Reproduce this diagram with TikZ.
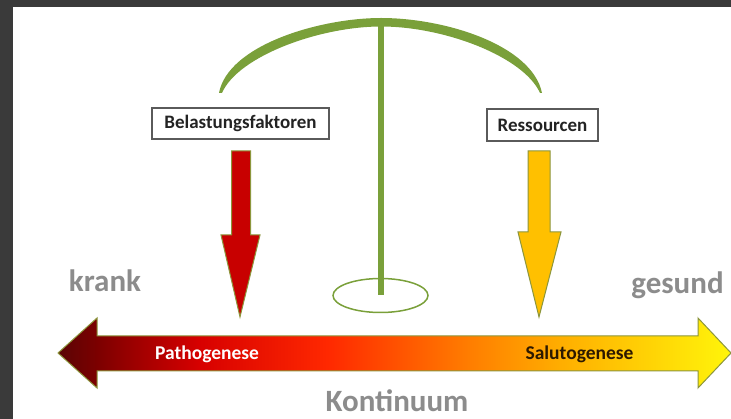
\documentclass[tikz,border=0pt]{standalone}
\usepackage{fontspec}
\usetikzlibrary{shapes.geometric}
\setmainfont{Carlito}
\definecolor{bggray}{RGB}{58,58,58}
\definecolor{leaf}{RGB}{122,160,58}
\definecolor{edgeol}{RGB}{140,150,60}
\definecolor{txtgray}{RGB}{140,140,140}
\definecolor{boxedge}{RGB}{90,90,90}
\definecolor{boxtxt}{RGB}{35,35,35}
\definecolor{arrred}{RGB}{200,0,0}
\definecolor{arryel}{RGB}{255,192,0}
\definecolor{saltxt}{RGB}{45,25,0}
\definecolor{sa}{RGB}{90,5,5}
\definecolor{sb}{RGB}{125,0,0}
\definecolor{sc}{RGB}{215,0,0}
\definecolor{sd}{RGB}{255,40,0}
\definecolor{se}{RGB}{255,125,0}
\definecolor{sf}{RGB}{255,175,0}
\definecolor{sg}{RGB}{255,245,10}
\pgfdeclarehorizontalshading{contshade}{100bp}{color(0bp)=(sa); color(25bp)=(sa); color(28bp)=(sb); color(35.5bp)=(sc); color(45bp)=(sd); color(55.5bp)=(se); color(62.5bp)=(sf); color(75bp)=(sg); color(100bp)=(sg)}
\tikzset{
  labbox/.style={draw=boxedge, line width=1.2pt, fill=white, inner sep=0pt, font=\fontsize{19}{19}\selectfont\bfseries, text=boxtxt},
  bigtxt/.style={inner sep=0pt, font=\fontsize{31}{31}\selectfont\bfseries, text=txtgray},
  contxt/.style={inner sep=0pt, font=\fontsize{19.5}{19.5}\selectfont\bfseries},
  downarr/.style={draw=edgeol, line width=1pt, line join=miter},
}
\begin{document}
\begin{tikzpicture}[x=1pt,y=-1pt]
\useasboundingbox (0,0) rectangle (731,419);
% frame
\fill[bggray] (0,0) rectangle (731,419);
\fill[white] (13,7) rectangle (731,419);
% balance beam (crescent)
\fill[leaf] (219,93) .. controls (228,45) and (320,18) .. (381,18)
  .. controls (445,18) and (532,45) .. (542,93)
  -- (540,93) .. controls (524,57) and (445,26.5) .. (381,26.5)
  .. controls (320,26.5) and (238,56) .. (222,93) -- cycle;
% pole
\coordinate (poletop) at (380.5,20);
\node[draw=leaf, line width=1.5pt, ellipse, minimum width=95pt, minimum height=34pt, inner sep=0pt] (base) at (380.5,295.5) {};
\draw[leaf, line width=6pt] (poletop) -- (base.center);
% boxes
\node[labbox, minimum width=177pt, minimum height=31pt] (bel) at (240.5,123.5) {Belastungsfaktoren};
\node[labbox, minimum width=111pt, minimum height=32pt] (res) at (542.5,125) {Ressourcen};
% down arrows
\fill[arrred, downarr] (231.5,151) -- (250.5,151) -- (250.5,235) -- (260,235) -- (240,317) -- (221,235) -- (231.5,235) -- cycle;
\fill[arryel, downarr] (528,151) -- (550,151) -- (550,232) -- (561,232) -- (539,317) -- (518,232) -- (528,232) -- cycle;
% continuum double arrow
\path[shading=contshade, draw=edgeol, line width=1pt, line join=miter]
  (58,353) -- (97,318) -- (97,336) -- (698,336) -- (698,318) -- (731,353)
  -- (698,388) -- (698,371) -- (97,371) -- (97,388) -- cycle;
% labels
\node[contxt, text=white, anchor=base] (path) at (207,360) {Pathogenese};
\node[contxt, text=saltxt, anchor=base] (salu) at (579.5,360) {Salutogenese};
\node[bigtxt, anchor=base] (krank) at (105,292) {krank};
\node[bigtxt, anchor=base] (gesund) at (677.5,294) {gesund};
\node[bigtxt, anchor=base] (kont) at (397,412) {Kontinuum};
\end{tikzpicture}
\end{document}
